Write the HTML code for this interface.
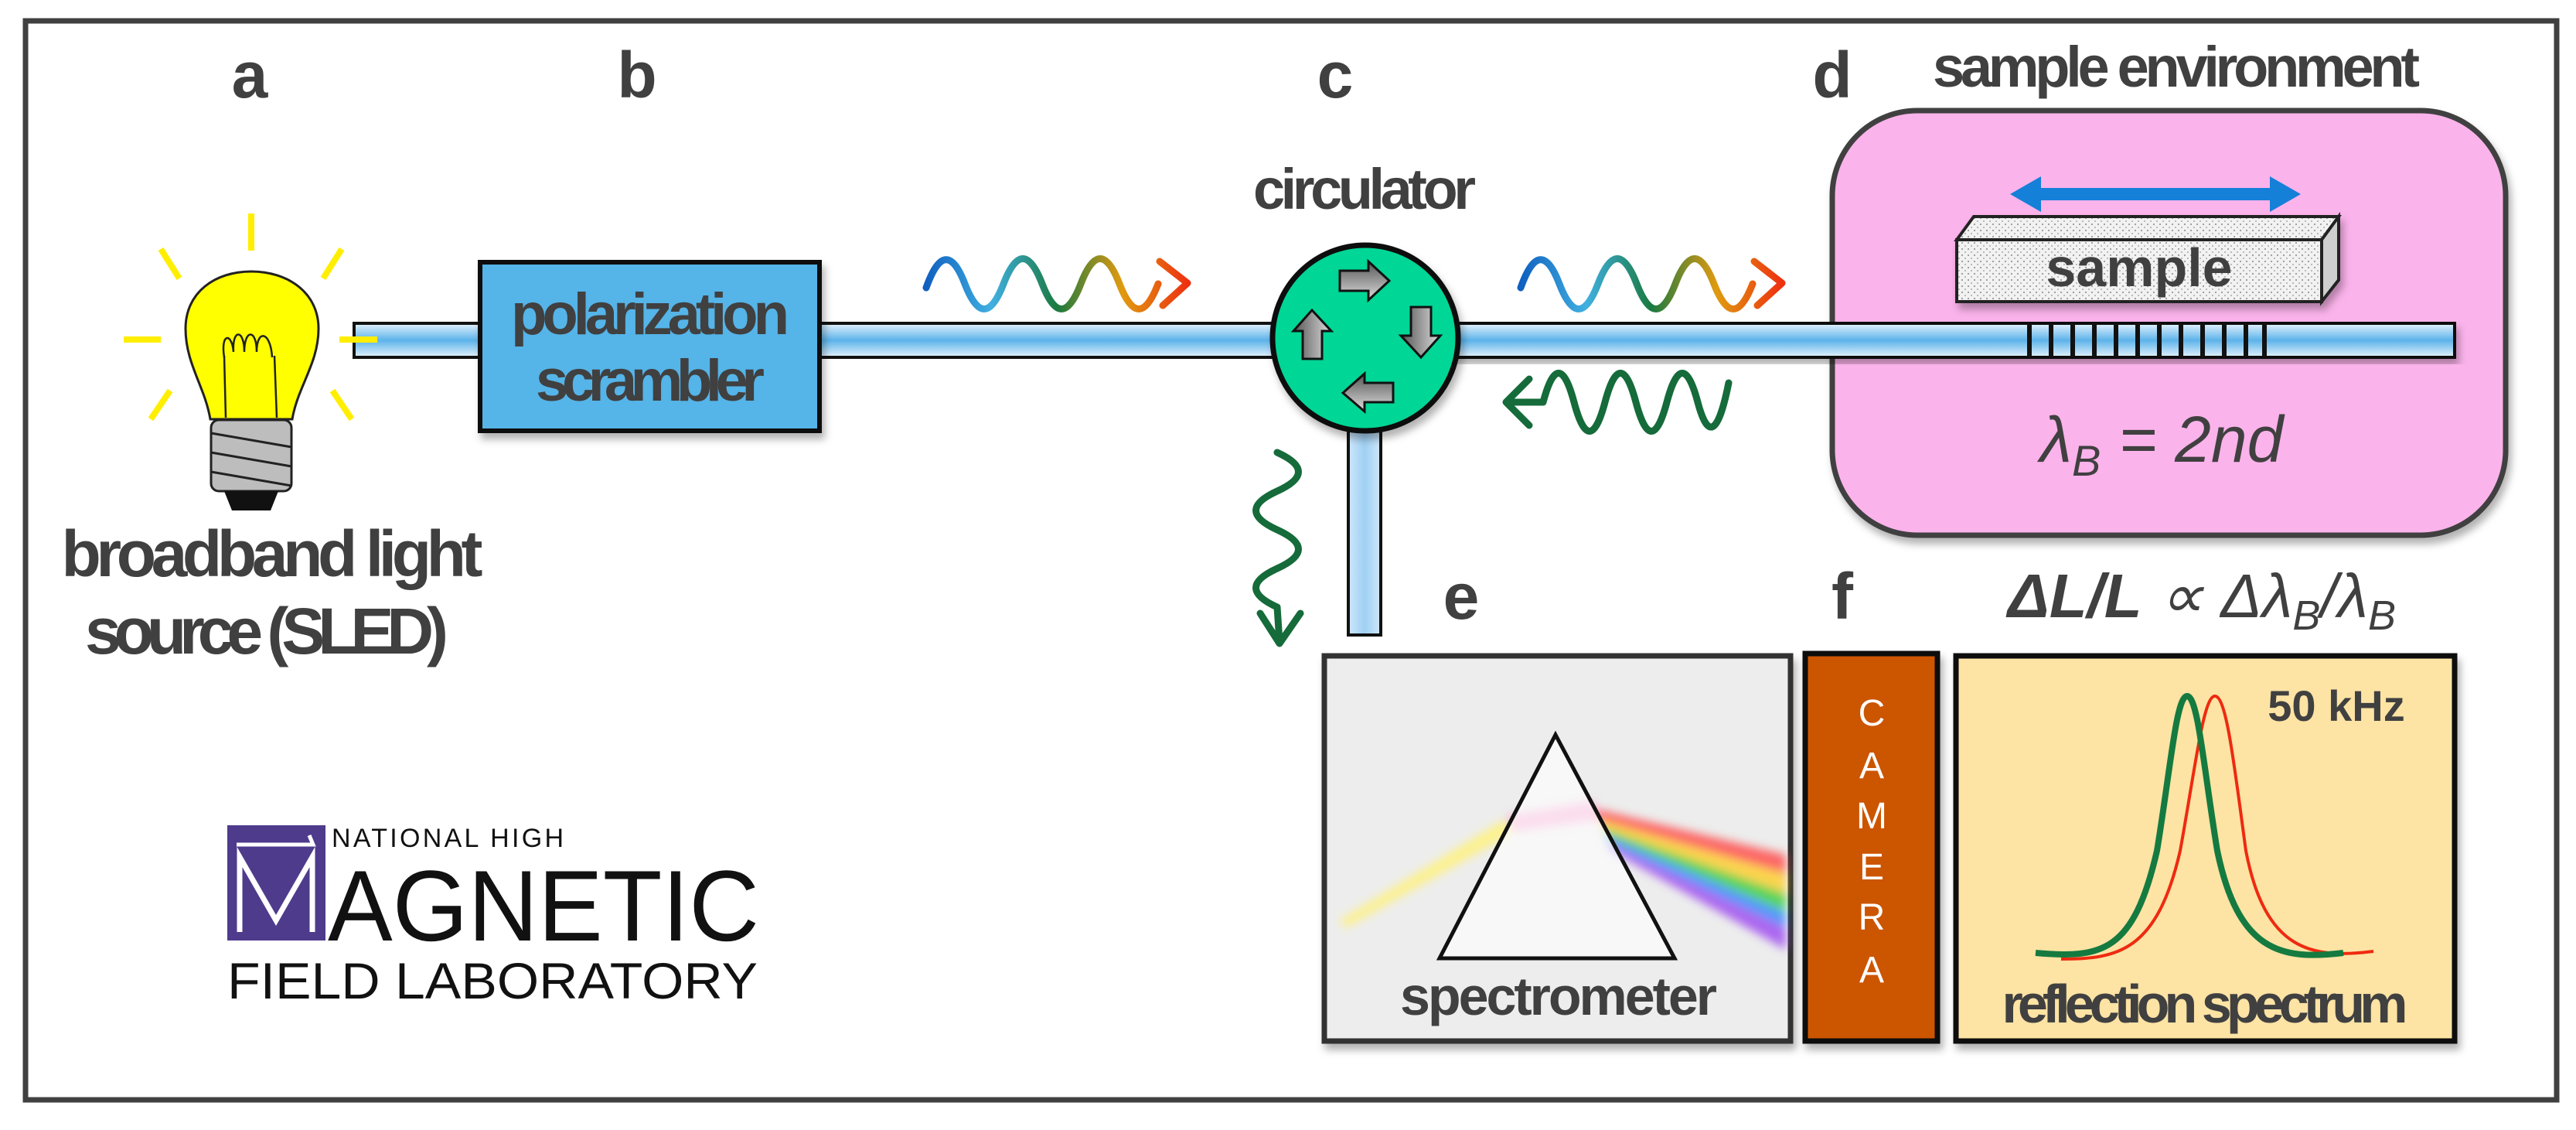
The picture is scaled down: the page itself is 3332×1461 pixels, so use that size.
<!DOCTYPE html>
<html><head><meta charset="utf-8"><style>
html,body{margin:0;padding:0;background:#fff;}
svg{display:block;}
text{font-family:"Liberation Sans Narrow","Liberation Sans",sans-serif;}
</style></head><body>
<svg width="3332" height="1461" viewBox="0 0 3332 1461" xmlns="http://www.w3.org/2000/svg">
<defs>
<linearGradient id="fib" x1="0" y1="0" x2="0" y2="1">
<stop offset="0" stop-color="#e6f3fd"/><stop offset="0.5" stop-color="#5cb3ea"/><stop offset="1" stop-color="#e6f3fd"/></linearGradient>
<linearGradient id="fibv" x1="0" y1="0" x2="1" y2="0">
<stop offset="0" stop-color="#cfe7fa"/><stop offset="0.5" stop-color="#9fd0f3"/><stop offset="1" stop-color="#cfe7fa"/></linearGradient>
<linearGradient id="rb" x1="0" y1="0" x2="1" y2="0">
<stop offset="0" stop-color="#1060c0"/><stop offset="0.25" stop-color="#40b0e0"/><stop offset="0.5" stop-color="#1a7a40"/><stop offset="0.75" stop-color="#e09a10"/><stop offset="1" stop-color="#ee3010"/></linearGradient>
<linearGradient id="arr" x1="0" y1="0" x2="0" y2="1">
<stop offset="0" stop-color="#555"/><stop offset="1" stop-color="#ddd"/></linearGradient>
<linearGradient id="arrh" x1="0" y1="0" x2="1" y2="0">
<stop offset="0" stop-color="#555"/><stop offset="1" stop-color="#ddd"/></linearGradient>
<pattern id="dots" width="8" height="8" patternUnits="userSpaceOnUse">
<rect width="8" height="8" fill="#f2f2f2"/><circle cx="2" cy="2" r="1.1" fill="#999"/><circle cx="6" cy="6" r="1" fill="#aaa"/></pattern>
<filter id="sh" x="-10%" y="-10%" width="130%" height="130%"><feDropShadow dx="4" dy="8" stdDeviation="5" flood-color="#000" flood-opacity="0.3"/></filter>
<filter id="bl" x="-20%" y="-20%" width="140%" height="140%"><feGaussianBlur stdDeviation="6"/></filter>
</defs>

<rect x="33" y="27" width="3274" height="1395" fill="none" stroke="#404040" stroke-width="7"/>

<g fill="#404040" font-weight="bold" font-size="84" text-anchor="middle">
<text x="323" y="126">a</text>
<text x="824" y="126">b</text>
<text x="1727" y="126">c</text>
<text x="2370" y="126">d</text>
<text x="1890" y="800">e</text>
<text x="2383" y="800">f</text>
</g>
<text x="2815" y="112" fill="#404040" font-weight="bold" font-size="74" text-anchor="middle" textLength="630">sample environment</text>
<text x="1765" y="270" fill="#404040" font-weight="bold" font-size="74" text-anchor="middle" textLength="288">circulator</text>
<text x="352" y="745" fill="#404040" font-weight="bold" font-size="84" text-anchor="middle" textLength="545">broadband light</text>
<text x="345" y="845" fill="#404040" font-weight="bold" font-size="84" text-anchor="middle" textLength="470">source (SLED)</text>

<rect x="2370" y="143" width="871" height="549" rx="110" fill="#fbb3eb" stroke="#404040" stroke-width="7" filter="url(#sh)"/>

<g stroke="#111" stroke-width="4">
<rect x="458" y="418" width="170" height="44" fill="url(#fib)"/>
<rect x="1055" y="418" width="595" height="44" fill="url(#fib)"/>
<rect x="1880" y="418" width="1295" height="44" fill="url(#fib)" filter="url(#sh)"/>
<rect x="1744" y="540" width="42" height="281" fill="url(#fibv)"/>
</g>
<g stroke="#111" stroke-width="6">
<line x1="2625" y1="418" x2="2625" y2="462"/><line x1="2653" y1="418" x2="2653" y2="462"/>
<line x1="2681" y1="418" x2="2681" y2="462"/><line x1="2709" y1="418" x2="2709" y2="462"/>
<line x1="2737" y1="418" x2="2737" y2="462"/><line x1="2765" y1="418" x2="2765" y2="462"/>
<line x1="2793" y1="418" x2="2793" y2="462"/><line x1="2821" y1="418" x2="2821" y2="462"/>
<line x1="2849" y1="418" x2="2849" y2="462"/><line x1="2877" y1="418" x2="2877" y2="462"/>
<line x1="2905" y1="418" x2="2905" y2="462"/><line x1="2929" y1="418" x2="2929" y2="462"/>
</g>

<g stroke="#ffee00" stroke-width="8">
<line x1="325" y1="276" x2="325" y2="324"/>
<line x1="208" y1="322" x2="232" y2="360"/>
<line x1="442" y1="322" x2="418" y2="360"/>
<line x1="160" y1="439" x2="208" y2="439"/>
<line x1="439" y1="439" x2="488" y2="439"/>
<line x1="195" y1="542" x2="220" y2="505"/>
<line x1="455" y1="542" x2="430" y2="505"/>
</g>
<path d="M272 542 C265 500 240 470 240 425 C240 378 278 351 325 351 C372 351 412 378 412 425 C412 470 385 500 378 542 Z" fill="#ffff00" stroke="#222" stroke-width="3"/>
<path d="M292 540 L290 460 M358 540 L355 460" stroke="#222" stroke-width="2.5" fill="none"/>
<path d="M290 462 C285 430 300 430 302 455 C300 425 316 425 316 455 C316 425 332 425 332 455 C332 425 350 428 352 462" stroke="#222" stroke-width="2.5" fill="none"/>
<rect x="273" y="543" width="104" height="92" rx="10" fill="#bdbdbd" stroke="#222" stroke-width="3"/>
<path d="M273 560 L377 578 M273 585 L377 603 M273 610 L377 628" stroke="#222" stroke-width="3"/>
<path d="M290 635 L360 635 L350 660 L300 660 Z" fill="#111"/>

<rect x="621" y="339" width="439" height="218" fill="#55b4e8" stroke="#111" stroke-width="6" filter="url(#sh)"/>
<text x="841" y="432" fill="#404040" font-weight="bold" font-size="76" text-anchor="middle" textLength="360">polarization</text>
<text x="841" y="518" fill="#404040" font-weight="bold" font-size="76" text-anchor="middle" textLength="296">scrambler</text>

<g fill="none" stroke-width="9" stroke-linecap="round" stroke-linejoin="round">
<path d="M1198 372 q 25 -70 50 -5 t 50 0 t 50 0 t 50 0 t 50 0 t 50 0 M1500 338 L1536 366 L1504 395" stroke="url(#rb)"/>
<path d="M1967 372 q 25 -70 50 -5 t 50 0 t 50 0 t 50 0 t 50 0 t 50 0 M2269 338 L2305 366 L2273 395" stroke="url(#rb)"/>
<path d="M2236 495 q -20 100 -40 25 t -40 0 t -40 0 t -40 0 t -40 0 t -40 0 L1948 520 M1978 490 L1948 520 L1978 550" stroke="#156b3a"/>
<path d="M1652 585 q 55 25 0 50 t 0 50 t 0 50 t 0 50 L1655 830 M1630 793 L1655 832 L1682 793" stroke="#156b3a"/>
</g>

<circle cx="1766" cy="437" r="120" fill="#00d696" stroke="#111" stroke-width="7" filter="url(#sh)"/>
<g stroke="#111" stroke-width="3">
<path d="M1733 350 L1770 350 L1770 338 L1797 363 L1770 388 L1770 376 L1733 376 Z" fill="url(#arr)"/>
<path d="M1825 397 L1851 397 L1851 434 L1863 434 L1838 462 L1812 434 L1825 434 Z" fill="url(#arrh)"/>
<path d="M1802 495 L1765 495 L1765 483 L1737 508 L1765 532 L1765 520 L1802 520 Z" fill="url(#arr)"/>
<path d="M1685 464 L1710 464 L1710 428 L1722 428 L1697 401 L1673 428 L1685 428 Z" fill="url(#arrh)"/>
</g>

<path d="M2600 251 L2640 228 L2640 243 L2936 243 L2936 228 L2976 251 L2936 274 L2936 259 L2640 259 L2640 274 Z" fill="#1580d8"/>
<g stroke="#222" stroke-width="4" fill="url(#dots)" filter="url(#sh)">
<path d="M2531 310 L2553 280 L3025 280 L3003 310 Z"/>
<path d="M3003 310 L3025 280 L3025 362 L3003 390 Z" fill="#cfcfcf"/>
<rect x="2531" y="310" width="472" height="80"/>
</g>
<text x="2767" y="370" fill="#404040" font-weight="bold" font-size="70" text-anchor="middle">sample</text>
<text x="2796" y="597" fill="#404040" font-size="84" font-style="italic" text-anchor="middle" font-family="Liberation Sans, sans-serif">λ<tspan font-size="56" dy="18">B</tspan><tspan dy="-18"> = 2nd</tspan></text>

<text x="2848" y="798" fill="#404040" font-size="80" font-style="italic" text-anchor="middle" font-family="Liberation Sans, sans-serif"><tspan font-weight="bold">ΔL/L</tspan> ∝ Δλ<tspan font-size="54" dy="16">B</tspan><tspan dy="-16">/λ</tspan><tspan font-size="54" dy="16">B</tspan></text>

<rect x="1713" y="848" width="603" height="498" fill="#ededed" stroke="#333" stroke-width="7" filter="url(#sh)"/>
<g filter="url(#bl)" opacity="0.85">
<polygon points="1733,1190 1945,1060 1960,1075 1740,1200" fill="#fff27a"/>
<polygon points="1950,1055 2060,1035 2070,1060 1955,1075" fill="#f7a0d0"/>
<polygon points="2060,1045 2310,1105 2310,1130 2068,1060" fill="#ff5050"/>
<polygon points="2068,1060 2310,1130 2310,1155 2072,1070" fill="#ffd030"/>
<polygon points="2072,1070 2310,1155 2310,1180 2076,1080" fill="#40d040"/>
<polygon points="2076,1080 2310,1180 2310,1200 2080,1090" fill="#3a8aff"/>
<polygon points="2080,1090 2310,1200 2310,1228 2084,1100" fill="#a050f0"/>
</g>
<polygon points="2012,950 2166,1239 1862,1239" fill="rgba(255,255,255,0.6)" stroke="#111" stroke-width="5"/>
<text x="2016" y="1312" fill="#404040" font-weight="bold" font-size="70" text-anchor="middle" textLength="410">spectrometer</text>

<rect x="2335" y="845" width="171" height="501" fill="#cc5500" stroke="#111" stroke-width="7" filter="url(#sh)"/>
<g fill="#fff" font-size="48" text-anchor="middle" font-family="Liberation Sans, sans-serif">
<text x="2421" y="938">C</text><text x="2421" y="1006">A</text><text x="2421" y="1071">M</text>
<text x="2421" y="1137">E</text><text x="2421" y="1202">R</text><text x="2421" y="1270">A</text>
</g>

<rect x="2530" y="848" width="645" height="498" fill="#fde3a4" stroke="#111" stroke-width="7" filter="url(#sh)"/>
<path d="M2666 1240 C2740 1240 2790 1230 2820 1100 C2840 990 2850 900 2865 900 C2880 900 2890 990 2905 1100 C2930 1230 2990 1240 3070 1230" fill="none" stroke="#ee2a10" stroke-width="4"/>
<path d="M2633 1232 C2720 1240 2760 1230 2790 1100 C2808 990 2815 900 2829 900 C2843 900 2850 990 2868 1100 C2895 1230 2950 1242 3031 1232" fill="none" stroke="#157a40" stroke-width="8"/>
<text x="3022" y="932" fill="#404040" font-weight="bold" font-size="56" text-anchor="middle">50 kHz</text>
<text x="2852" y="1322" fill="#404040" font-weight="bold" font-size="70" text-anchor="middle" textLength="525">reflection spectrum</text>

<rect x="294" y="1067" width="127" height="149" fill="#4f3b8c"/>
<path d="M306 1092 L405 1092 L400 1080" stroke="#fff" stroke-width="5" fill="none"/>
<path d="M310 1205 L310 1108 L357 1190 L404 1108 L404 1205" stroke="#fff" stroke-width="7" fill="none"/>
<text x="429" y="1095" fill="#111" font-size="34" font-family="Liberation Sans, sans-serif" textLength="300">NATIONAL HIGH</text>
<text x="424" y="1216" fill="#111" font-size="130" font-family="Liberation Sans, sans-serif" textLength="558" lengthAdjust="spacingAndGlyphs">AGNETIC</text>
<text x="294" y="1291" fill="#111" font-size="66" font-family="Liberation Sans, sans-serif" textLength="686" lengthAdjust="spacingAndGlyphs">FIELD LABORATORY</text>
</svg>
</body></html>
